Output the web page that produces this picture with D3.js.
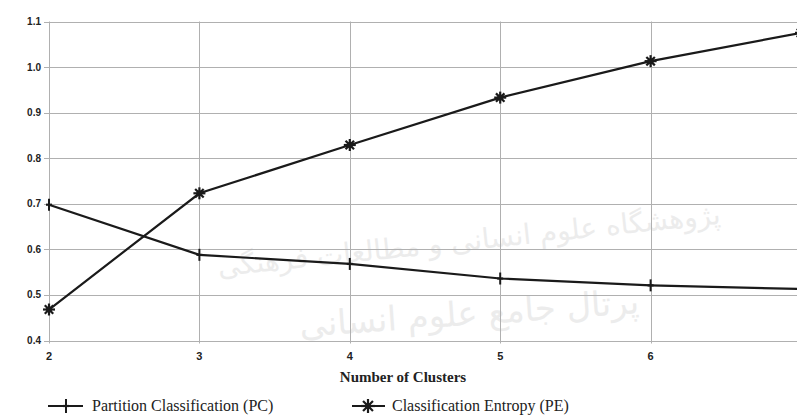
<!DOCTYPE html>
<html>
<head>
<meta charset="utf-8">
<script src="https://cdn.jsdelivr.net/npm/d3@7"></script>
<style>
body { margin: 0; background: #fff; }
svg { display: block; }
</style>
</head>
<body>
<script>
const width = 797;
const height = 416;

// data
const clusters = [2, 3, 4, 5, 6, 7];
const pcValues = [0.698, 0.588, 0.568, 0.536, 0.521, 0.513];
const peValues = [0.468, 0.723, 0.829, 0.933, 1.013, 1.075];
const yTicks = [0.4, 0.5, 0.6, 0.7, 0.8, 0.9, 1.0, 1.1];
const xTicks = [2, 3, 4, 5, 6];
const seriesNames = ["Partition Classification (PC)", "Classification Entropy (PE)"];

const svg = d3.select("body").append("svg")
	.attr("width", width)
	.attr("height", height);

const x = d3.scaleLinear().domain([2, 7]).range([49, 801]);
const y = d3.scaleLinear().domain([0.4, 1.1]).range([340.5, 21.5]);

// faint watermark text
const wm = svg.append("g").attr("fill", "#ececec")
	.attr("font-family", "'DejaVu Sans', sans-serif");
wm.append("text")
	.attr("x", 470).attr("y", 250)
	.attr("text-anchor", "middle")
	.attr("font-size", 28)
	.attr("transform", "rotate(-6, 470, 250)")
	.text("پژوهشگاه علوم انسانی و مطالعات فرهنگی");
wm.append("text")
	.attr("x", 470).attr("y", 325)
	.attr("text-anchor", "middle")
	.attr("font-size", 34)
	.attr("transform", "rotate(-4, 470, 325)")
	.text("پرتال جامع علوم انسانی");

// grid
svg.append("g").selectAll("line.h")
	.data(yTicks)
	.enter().append("line")
	.attr("x1", 44).attr("x2", width)
	.attr("y1", d => Math.round(y(d)) + 0.5)
	.attr("y2", d => Math.round(y(d)) + 0.5)
	.attr("stroke", "#b0b0b0")
	.attr("stroke-width", 1);

svg.append("g").selectAll("line.v")
	.data(xTicks)
	.enter().append("line")
	.attr("x1", d => Math.round(x(d)) + 0.5)
	.attr("x2", d => Math.round(x(d)) + 0.5)
	.attr("y1", y(1.1))
	.attr("y2", y(0.4) + 3)
	.attr("stroke", "#b0b0b0")
	.attr("stroke-width", 1);

// y tick labels
svg.append("g").selectAll("text")
	.data(yTicks)
	.enter().append("text")
	.attr("x", 41)
	.attr("y", d => y(d) + 3.5)
	.attr("text-anchor", "end")
	.attr("font-family", "'Liberation Sans', Arial, sans-serif")
	.attr("font-weight", "bold")
	.attr("font-size", 10)
	.attr("fill", "#222")
	.text(d => d3.format(".1f")(d));

// x tick labels
svg.append("g").selectAll("text")
	.data(xTicks)
	.enter().append("text")
	.attr("x", d => x(d))
	.attr("y", 360)
	.attr("text-anchor", "middle")
	.attr("font-family", "'Liberation Sans', Arial, sans-serif")
	.attr("font-weight", "bold")
	.attr("font-size", 11)
	.attr("fill", "#222")
	.text(d => d);

svg.append("text")
	.attr("x", 403).attr("y", 382)
	.attr("text-anchor", "middle")
	.attr("font-family", "'Liberation Serif', 'Times New Roman', serif")
	.attr("font-weight", "bold")
	.attr("font-size", 15)
	.attr("fill", "#222")
	.text("Number of Clusters");

// lines
const line = d3.line()
	.x((d, i) => x(clusters[i]))
	.y(d => y(d));

svg.append("path")
	.datum(pcValues)
	.attr("d", line)
	.attr("fill", "none")
	.attr("stroke", "#1a1a1a")
	.attr("stroke-width", 2.2);

svg.append("path")
	.datum(peValues)
	.attr("d", line)
	.attr("fill", "none")
	.attr("stroke", "#1a1a1a")
	.attr("stroke-width", 2.2);

function plusMarker(g, cx, cy, w, h) {
	g.append("line").attr("x1", cx - w).attr("x2", cx + w)
		.attr("y1", cy).attr("y2", cy)
		.attr("stroke", "#1a1a1a").attr("stroke-width", 2.2);
	g.append("line").attr("x1", cx).attr("x2", cx)
		.attr("y1", cy - h).attr("y2", cy + h)
		.attr("stroke", "#1a1a1a").attr("stroke-width", 2);
}

function starMarker(g, cx, cy, r) {
	for (let k = 0; k < 4; k++) {
		const a = k * Math.PI / 4;
		g.append("line")
			.attr("x1", cx - r * Math.cos(a)).attr("x2", cx + r * Math.cos(a))
			.attr("y1", cy - r * Math.sin(a)).attr("y2", cy + r * Math.sin(a))
			.attr("stroke", "#1a1a1a").attr("stroke-width", 2.2);
	}
	g.append("circle").attr("cx", cx).attr("cy", cy).attr("r", 3).attr("fill", "#1a1a1a");
}

const markers = svg.append("g");
pcValues.forEach((v, i) => plusMarker(markers, x(clusters[i]), y(v), 3, 6));
peValues.forEach((v, i) => starMarker(markers, x(clusters[i]), y(v), 6));

// legend
const leg = svg.append("g");
leg.append("line").attr("x1", 48).attr("x2", 83).attr("y1", 406).attr("y2", 406)
	.attr("stroke", "#1a1a1a").attr("stroke-width", 2.2);
plusMarker(leg, 66, 406, 3, 7);
leg.append("text").attr("x", 92).attr("y", 411)
	.attr("font-family", "'Liberation Serif', 'Times New Roman', serif")
	.attr("font-size", 16).attr("fill", "#222")
	.text(seriesNames[0]);

leg.append("line").attr("x1", 352).attr("x2", 385).attr("y1", 406).attr("y2", 406)
	.attr("stroke", "#1a1a1a").attr("stroke-width", 2.2);
starMarker(leg, 368, 406, 7);
leg.append("text").attr("x", 392).attr("y", 411)
	.attr("font-family", "'Liberation Serif', 'Times New Roman', serif")
	.attr("font-size", 16).attr("fill", "#222")
	.text(seriesNames[1]);
</script>
</body>
</html>
